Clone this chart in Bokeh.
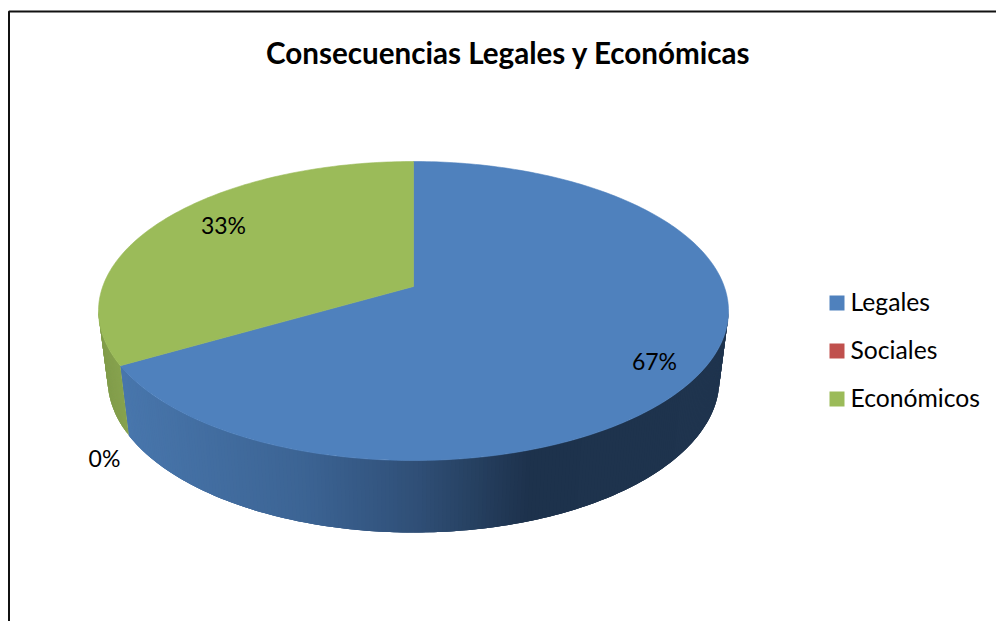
import math
from bokeh.core.properties import value
from bokeh.embed import file_html
from bokeh.models import ColumnDataSource, Range1d
from bokeh.plotting import figure
from bokeh.resources import INLINE

title_text = "Consecuencias Legales y Económicas"
categories = ["Legales", "Sociales", "Económicos"]
counts = [2, 0, 1]
top_colors = ["#4f81bd", "#c0504d", "#9bbb59"]
font = "Lato"

# Perspective disc: screen position of the apex and of the far/near rim points.
CX, APEX_Y, FAR_Y, NEAR_Y, HALF_W = 413.0, 286.0, 161.0, 460.0, 315.0
K = (FAR_Y + NEAR_Y - 2 * APEX_Y) / (NEAR_Y - FAR_Y)
B = APEX_Y - FAR_Y - FAR_Y * K
R = HALF_W * math.sqrt(1 - K * K)
MID_Y = (FAR_Y + NEAR_Y) / 2
HALF_H = (NEAR_Y - FAR_Y) / 2

# Lower rim of the disc's wall.
LOW_SCALE_X, LOW_MID_Y, LOW_HALF_H = 0.971, 379.0, 153.0


def rim(theta):
    """Top rim point for an angle measured clockwise from 12 o'clock."""
    x, c = math.sin(theta), -math.cos(theta)
    d = 1 - K * c
    return CX + R * x / d, (APEX_Y + B * c) / d


def low_rim(theta):
    x, y = rim(theta)
    return CX + (x - CX) * LOW_SCALE_X, LOW_MID_Y + (y - MID_Y) * LOW_HALF_H / HALF_H


def blend(stops, x):
    if x <= stops[0][0]:
        return "#%02x%02x%02x" % tuple(stops[0][1])
    for (x0, c0), (x1, c1) in zip(stops, stops[1:]):
        if x <= x1:
            t = (x - x0) / (x1 - x0)
            rgb = [round(a + (b - a) * t) for a, b in zip(c0, c1)]
            return "#%02x%02x%02x" % tuple(rgb)
    return "#%02x%02x%02x" % tuple(stops[-1][1])


wall_shades = [
    [(120, (72, 118, 172)), (300, (60, 100, 148)), (413, (48, 80, 120)), (530, (29, 50, 76)), (730, (31, 52, 78))],
    [(0, (120, 60, 58)), (996, (120, 60, 58))],
    [(95, (128, 155, 74)), (130, (137, 165, 79))],
]

p = figure(
    width=996, height=621, output_backend="svg", toolbar_location=None,
    x_range=Range1d(0, 996), y_range=Range1d(621, 0),
    min_border=0, outline_line_color=None, background_fill_color="white",
    border_fill_color="white",
)
p.axis.visible = False
p.grid.visible = False

# Chart frame, running off the right and bottom of the page.
p.line([8.5, 8.5, 996], [621, 11, 11], line_color="#111111", line_width=2)

# Side wall, painted as overlapping strips in order: each strip runs slightly
# past the next one, which then covers the overlap and leaves no seams.
total = sum(counts)
theta_right = math.acos(-K)
theta_left = 2 * math.pi - theta_right
xs, ys, fills = [], [], []
start = 0.0
for count, shades in zip(counts, wall_shades):
    end = start + count / total * 2 * math.pi
    a, b = max(start, theta_right), min(end, theta_left)
    if b > a:
        n = max(4, int((b - a) * 90))
        for i in range(n):
            t0 = a + (b - a) * i / n
            t1 = a + (b - a) * (i + 1) / n
            t2 = min(b, a + (b - a) * (i + 3) / n)
            mid_x = (rim(t0)[0] + rim(t1)[0]) / 2
            steps = [t0, t1, t2]
            upper = [rim(t) for t in steps]
            lower = [low_rim(t) for t in reversed(steps)]
            xs.append([q[0] for q in upper + lower])
            ys.append([q[1] for q in upper + lower])
            fills.append(blend(shades, mid_x))
    start = end
p.patches("xs", "ys", source=ColumnDataSource(dict(xs=xs, ys=ys, fills=fills)),
          fill_color="fills", line_color=None)

# Top face of the disc, one wedge per category.
start = 0.0
for count, color in zip(counts, top_colors):
    end = start + count / total * 2 * math.pi
    if count > 0:
        n = max(2, int((end - start) * 60))
        pts = [rim(start + (end - start) * i / n) for i in range(n + 1)]
        p.patch([CX] + [q[0] for q in pts], [APEX_Y] + [q[1] for q in pts],
                fill_color=color, line_color=color, line_width=0.6)
    start = end

# Percentage labels.
label_x = [654, 104, 223]
label_y = [360, 457, 224]
labels = [f"{round(100 * c / total)}%" for c in counts]
p.text(label_x, label_y, text=labels, text_font=value(font),
       text_font_size="23px", text_color="black", text_align="center", text_baseline="middle")

# Title.
p.text([508], [52], text=[title_text], text_font=value(font), text_font_style="bold",
       text_font_size="29.6px", text_color="black", text_align="center", text_baseline="middle")

# Legend.
legend_y = [302.5, 350.5, 398.5]
p.scatter([836.5] * 3, legend_y, marker="square", size=15, color=top_colors, line_color=None)
p.text([850] * 3, [y - 2 for y in legend_y], text=categories, text_font=value(font),
       text_font_size="24.7px", text_color="black", text_align="left", text_baseline="middle")

open("out.html", "w").write(file_html(p, INLINE))
